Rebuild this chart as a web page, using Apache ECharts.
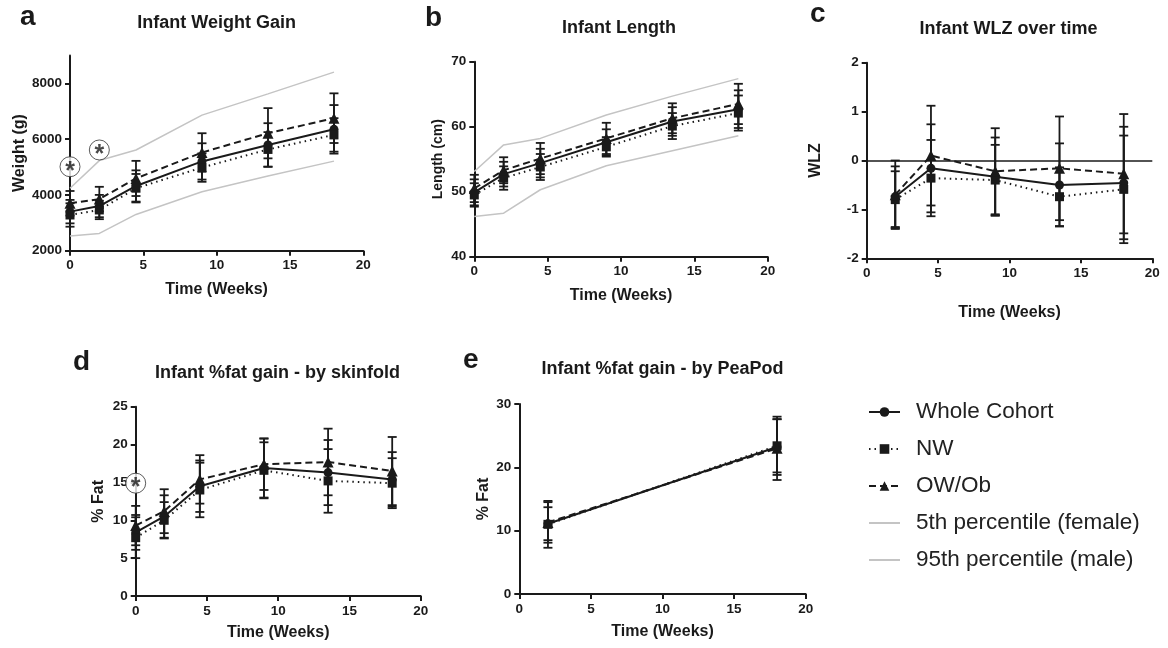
<!DOCTYPE html>
<html>
<head>
<meta charset="utf-8">
<title>Infant growth</title>
<script src="https://cdn.jsdelivr.net/npm/echarts@6/dist/echarts.min.js"></script>
<style>
html, body { margin: 0; padding: 0; background: #fff; }
#chart { width: 1168px; height: 648px; }
</style>
</head>
<body>
<div id="chart"></div>
<script>
// time points (weeks)
var weeks = [0, 2, 4.5, 9, 13.5, 18];
var weeksWlz = [2, 4.5, 9, 13.5, 18];
var weeksPea = [2, 18];

// a - weight (g)
var wtWhole = [3400, 3600, 4320, 5200, 5790, 6350];
var wtWholeSd = [420, 400, 560, 650, 780, 870];
var wtNW = [3280, 3460, 4240, 4980, 5630, 6150];
var wtNWSd = [420, 330, 510, 510, 620, 600];
var wtOW = [3700, 3850, 4590, 5520, 6210, 6750];
var wtOWSd = [440, 440, 630, 690, 900, 890];
var wtP5 = [2530, 2620, 3300, 4110, 4680, 5210];
var wtP95 = [4240, 5230, 5610, 6860, 7620, 8400];
var wtSig = [[0, 5010], [2, 5610]];
var wtTicks = [2000, 4000, 6000, 8000];

// b - length (cm)
var lenWhole = [49.9, 52.7, 54.4, 57.6, 60.8, 62.7];
var lenWholeSd = [2.0, 1.9, 2.2, 2.0, 2.2, 2.9];
var lenNW = [49.5, 52.1, 53.8, 56.9, 60.1, 62.1];
var lenNWSd = [1.8, 1.8, 2.0, 1.5, 2.0, 2.7];
var lenOW = [50.5, 53.3, 55.1, 58.2, 61.3, 63.5];
var lenOWSd = [2.1, 2.0, 2.4, 2.4, 2.3, 3.1];
var lenP5 = [46.2, 46.7, 50.3, 54.0, 56.3, 58.6];
var lenP95 = [53.1, 57.2, 58.2, 61.8, 64.7, 67.4];

// c - WLZ
var wlzWhole = [-0.74, -0.16, -0.33, -0.50, -0.46];
var wlzWholeSd = [0.62, 0.90, 0.80, 0.85, 1.15];
var wlzNW = [-0.80, -0.36, -0.40, -0.74, -0.59];
var wlzNWSd = [0.58, 0.78, 0.72, 0.60, 1.10];
var wlzOW = [-0.70, 0.10, -0.22, -0.16, -0.27];
var wlzOWSd = [0.70, 1.02, 0.88, 1.06, 1.22];

// d - %fat by skinfold
var fatWhole = [8.4, 10.5, 14.5, 16.9, 16.3, 15.4];
var fatWholeSd = [2.3, 2.8, 3.4, 3.9, 4.3, 3.6];
var fatNW = [7.7, 10.0, 14.0, 16.6, 15.2, 14.9];
var fatNWSd = [2.7, 2.4, 3.6, 3.7, 4.2, 3.3];
var fatOW = [9.3, 11.2, 15.4, 17.4, 17.7, 16.5];
var fatOWSd = [2.6, 2.9, 3.2, 3.4, 4.4, 4.5];
var fatSig = [[0, 14.9]];

// e - %fat by PeaPod
var peaWhole = [11.1, 23.2];
var peaWholeSd = [2.6, 4.4];
var peaNW = [11.0, 23.4];
var peaNWSd = [3.7, 4.2];
var peaOW = [11.3, 23.0];
var peaOWSd = [3.2, 5.0];

var FONT = "'Liberation Sans', Arial, sans-serif";
var INK = '#1a1a1a';
var GREY = '#c4c4c4';

var groups = {
	'Whole Cohort': { symbol: 'circle', size: 9, line: 'solid' },
	'NW': { symbol: 'rect', size: 9, line: [1.5, 4] },
	'OW/Ob': { symbol: 'triangle', size: 11, line: [7, 4] }
};

function pairs(xs, ys) {
	return xs.map(function(x, i) { return [x, ys[i]]; });
}

function meanLine(name, grid, xs, ys) {
	var g = groups[name];
	return {
		name: name, type: 'line', xAxisIndex: grid, yAxisIndex: grid,
		data: pairs(xs, ys), symbol: g.symbol, symbolSize: g.size, showSymbol: true,
		clip: false, z: 4,
		itemStyle: { color: INK },
		lineStyle: { color: INK, width: 2, type: g.line }
	};
}

function pctLine(name, grid, xs, ys) {
	return {
		name: name, type: 'line', xAxisIndex: grid, yAxisIndex: grid,
		data: pairs(xs, ys), symbol: 'none', clip: false, z: 1,
		itemStyle: { color: GREY },
		lineStyle: { color: GREY, width: 1.5 }
	};
}

// sd error bars with caps
function errBars(grid, xs, ys, sd) {
	return {
		type: 'custom', xAxisIndex: grid, yAxisIndex: grid, z: 3, silent: true,
		data: xs.map(function(x, i) { return [x, ys[i] - sd[i], ys[i] + sd[i]]; }),
		encode: { x: 0, y: [1, 2] },
		renderItem: function(params, api) {
			var hi = api.coord([api.value(0), api.value(2)]);
			var lo = api.coord([api.value(0), api.value(1)]);
			var w = 4.5;
			var st = { stroke: INK, lineWidth: 1.8 };
			return {
				type: 'group',
				children: [
					{ type: 'line', shape: { x1: hi[0], y1: hi[1], x2: lo[0], y2: lo[1] }, style: st },
					{ type: 'line', shape: { x1: hi[0] - w, y1: hi[1], x2: hi[0] + w, y2: hi[1] }, style: st },
					{ type: 'line', shape: { x1: lo[0] - w, y1: lo[1], x2: lo[0] + w, y2: lo[1] }, style: st }
				]
			};
		}
	};
}

function sigMarks(grid, pts) {
	return {
		type: 'scatter', xAxisIndex: grid, yAxisIndex: grid, data: pts, z: 6,
		symbol: 'circle', symbolSize: 20, clip: false, silent: true,
		itemStyle: { color: '#fff', borderColor: '#333', borderWidth: 1 },
		label: { show: true, position: 'inside', formatter: '*', fontSize: 25, fontWeight: 'bold',
			color: INK, fontFamily: FONT, offset: [0, 5] }
	};
}

function panel(grid, xs, whole, wholeSd, nw, nwSd, ow, owSd) {
	return [
		errBars(grid, xs, whole, wholeSd),
		errBars(grid, xs, nw, nwSd),
		errBars(grid, xs, ow, owSd),
		meanLine('Whole Cohort', grid, xs, whole),
		meanLine('NW', grid, xs, nw),
		meanLine('OW/Ob', grid, xs, ow)
	];
}

function nameStyle(size) {
	return { fontFamily: FONT, fontSize: size, fontWeight: 'bold', color: INK };
}
var tickLabel = {
	fontFamily: FONT, fontSize: 13.5, fontWeight: 'bold', color: INK, margin: 8,
	formatter: function(v) { return String(v); }
};

function xAxis(grid, gap) {
	return {
		type: 'value', gridIndex: grid, min: 0, max: 20, interval: 5,
		name: 'Time (Weeks)', nameLocation: 'middle', nameGap: gap, nameTextStyle: nameStyle(16),
		axisLine: { onZero: false, lineStyle: { color: INK, width: 2 } },
		axisTick: { length: 5, lineStyle: { color: INK, width: 2 } },
		axisLabel: tickLabel,
		splitLine: { show: false }
	};
}

function yAxis(grid, name, gap, size, min, max, interval) {
	return {
		type: 'value', gridIndex: grid, min: min, max: max, interval: interval,
		name: name, nameLocation: 'middle', nameGap: gap, nameTextStyle: nameStyle(size),
		axisLine: { onZero: false, lineStyle: { color: INK, width: 2 } },
		axisTick: { length: 5, lineStyle: { color: INK, width: 2 } },
		axisLabel: tickLabel,
		splitLine: { show: false }
	};
}

function heading(text, x, y, size) {
	return {
		text: text, left: x, top: y, padding: 0, textAlign: size > 20 ? 'left' : 'center',
		textStyle: { fontFamily: FONT, fontSize: size, fontWeight: 'bold', color: INK }
	};
}

var yA = yAxis(0, 'Weight (g)', 41, 16, 2000, 9000, 1000);
yA.axisLabel = Object.assign({}, tickLabel, { customValues: wtTicks });
yA.axisTick = Object.assign({}, yA.axisTick, { customValues: wtTicks });

var series = [].concat(
	[pctLine('5th percentile (female)', 0, weeks, wtP5), pctLine('95th percentile (male)', 0, weeks, wtP95)],
	panel(0, weeks, wtWhole, wtWholeSd, wtNW, wtNWSd, wtOW, wtOWSd),
	[sigMarks(0, wtSig)],
	[pctLine('5th percentile (female)', 1, weeks, lenP5), pctLine('95th percentile (male)', 1, weeks, lenP95)],
	panel(1, weeks, lenWhole, lenWholeSd, lenNW, lenNWSd, lenOW, lenOWSd),
	panel(2, weeksWlz, wlzWhole, wlzWholeSd, wlzNW, wlzNWSd, wlzOW, wlzOWSd),
	panel(3, weeks, fatWhole, fatWholeSd, fatNW, fatNWSd, fatOW, fatOWSd),
	[sigMarks(3, fatSig)],
	panel(4, weeksPea, peaWhole, peaWholeSd, peaNW, peaNWSd, peaOW, peaOWSd)
);

// zero reference line in panel c
series.push({
	type: 'line', xAxisIndex: 2, yAxisIndex: 2, data: [], silent: true,
	markLine: {
		silent: true, symbol: ['none', 'none'], label: { show: false },
		lineStyle: { color: INK, type: 'solid', width: 1.5 },
		data: [{ yAxis: 0 }]
	}
});

var chart = echarts.init(document.getElementById('chart'));
chart.setOption({
	animation: false,
	backgroundColor: '#fff',
	title: [
		heading('a', 20, 3, 28),
		heading('b', 425, 4, 28),
		heading('c', 810, 0, 28),
		heading('d', 73, 348, 28),
		heading('e', 463, 346, 28),
		heading('Infant Weight Gain', 216.7, 14, 18),
		heading('Infant Length', 619, 19, 18),
		heading('Infant WLZ over time', 1008.5, 20.5, 18),
		heading('Infant %fat gain - by skinfold', 277.5, 364, 18),
		heading('Infant %fat gain - by PeaPod', 662.5, 360.5, 18)
	],
	legend: {
		orient: 'vertical', left: 868, top: 400, padding: 0,
		itemWidth: 31, itemHeight: 12, itemGap: 13,
		data: [
			'Whole Cohort', 'NW', 'OW/Ob',
			{ name: '5th percentile (female)', itemStyle: { opacity: 0 } },
			{ name: '95th percentile (male)', itemStyle: { opacity: 0 } }
		],
		textStyle: { fontFamily: FONT, fontSize: 22.5, lineHeight: 24, color: '#222', padding: [0, 0, 0, 11] }
	},
	grid: [
		{ left: 70, top: 55.4, width: 293.3, height: 195.3, containLabel: false },
		{ left: 474.3, top: 61.7, width: 293.4, height: 195, containLabel: false },
		{ left: 866.7, top: 62.7, width: 285.6, height: 195.6, containLabel: false },
		{ left: 135.7, top: 406.7, width: 285, height: 189.3, containLabel: false },
		{ left: 519.3, top: 404, width: 286.4, height: 190, containLabel: false }
	],
	xAxis: [xAxis(0, 31), xAxis(1, 30.5), xAxis(2, 46), xAxis(3, 29), xAxis(4, 30)],
	yAxis: [
		yA,
		yAxis(1, 'Length (cm)', 29, 14, 40, 70, 10),
		yAxis(2, 'WLZ', 43, 16, -2, 2, 1),
		yAxis(3, '% Fat', 29, 16, 0, 25, 5),
		yAxis(4, '% Fat', 28, 16, 0, 30, 10)
	],
	series: series
});
</script>
</body>
</html>
